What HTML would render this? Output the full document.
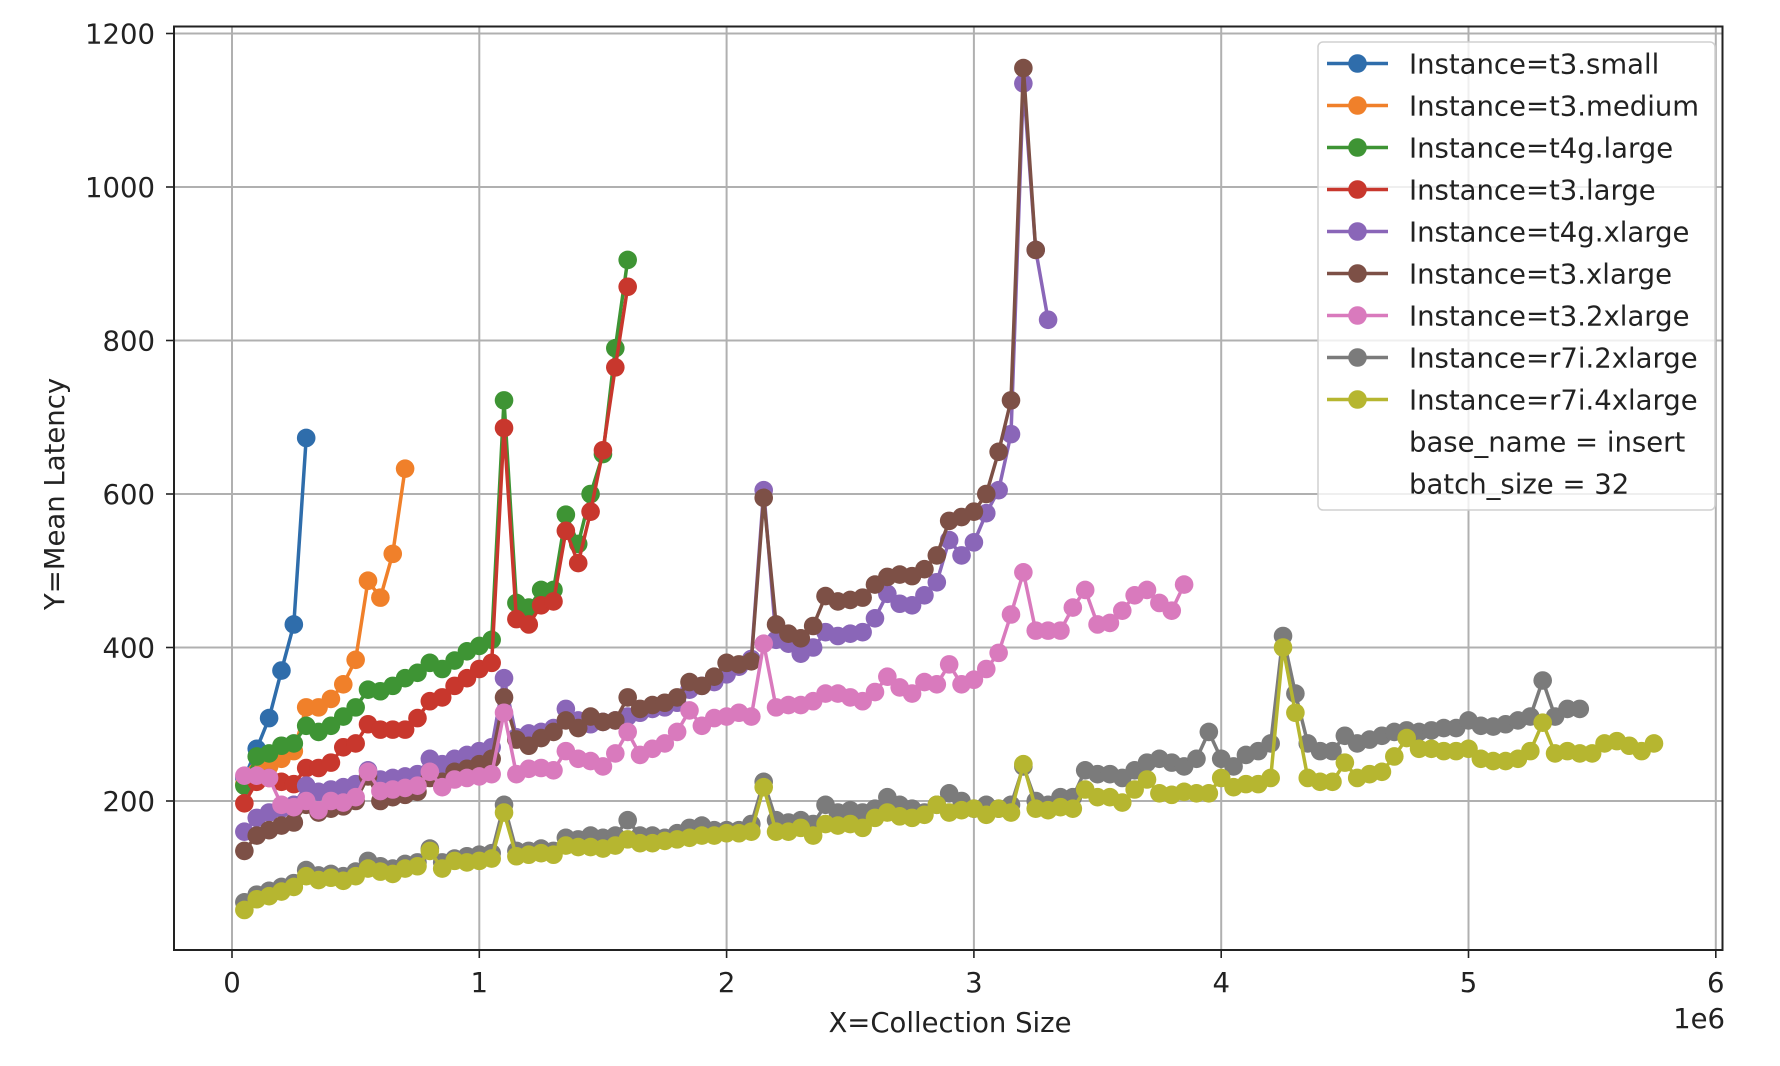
<!DOCTYPE html>
<html><head><meta charset="utf-8"><style>
html,body{margin:0;padding:0;background:#fff;}
svg{display:block;font-family:"DejaVu Sans","Liberation Sans",sans-serif;}
</style></head><body>
<svg id="chart" width="1780" height="1066" viewBox="0 0 1780 1066" xmlns="http://www.w3.org/2000/svg">
<rect width="1780" height="1066" fill="#fff"/>
<g id="grid"></g>
<g id="series"></g>
<rect x="174" y="26.5" width="1548.5" height="923.5" fill="none" stroke="#222" stroke-width="2"/>
<g id="ticks"></g>
<text x="950" y="1032" font-size="27.5" text-anchor="middle" fill="#222">X=Collection Size</text>
<text x="1725" y="1028" font-size="27.5" text-anchor="end" fill="#222">1e6</text>
<text transform="translate(64,494) rotate(-90)" font-size="27.5" text-anchor="middle" fill="#222">Y=Mean Latency</text>
<g id="legend"></g>
</svg>
<script>
const xTicks = [0,1,2,3,4,5,6];
const yTicks = [200,400,600,800,1000,1200];
const seriesNames = ["Instance=t3.small","Instance=t3.medium","Instance=t4g.large","Instance=t3.large","Instance=t4g.xlarge","Instance=t3.xlarge","Instance=t3.2xlarge","Instance=r7i.2xlarge","Instance=r7i.4xlarge"];
const seriesColors = ["#2f6dab","#f0802a","#3e9434","#c8372d","#8a66b8","#7d5046","#d97abd","#7b7b7b","#b6b630"];
const smallY = [230,268,308,370,430,673];
const mediumY = [222,238,245,255,265,322,322,333,352,384,487,465,522,633];
const t4gLargeY = [220,258,262,272,275,298,290,298,310,322,345,343,350,360,367,380,372,383,395,402,410,722,458,452,475,475,573,535,600,652,790,905];
const t3LargeY = [197,225,230,225,222,243,243,250,270,275,300,293,293,293,308,330,335,350,360,372,380,686,437,430,455,460,552,510,577,657,765,870];
const t4gXlargeY = [160,178,185,190,195,220,212,215,218,222,240,228,230,232,235,255,248,255,260,265,270,360,283,288,290,295,320,305,300,303,305,310,315,320,322,328,345,350,355,365,375,385,605,410,405,392,400,420,415,418,420,438,470,457,455,468,485,540,520,537,575,605,678,1135,918,827];
const t3XlargeY = [135,155,162,168,172,195,185,190,193,200,232,200,205,208,212,230,225,238,242,248,255,335,280,272,282,290,305,295,310,303,305,335,320,325,328,335,355,350,362,380,378,382,595,430,418,412,428,467,460,462,465,482,492,495,493,502,520,565,570,577,600,655,722,1155,918];
const t32xlargeY = [233,233,230,195,192,200,188,200,198,205,238,213,215,217,220,238,218,228,230,232,235,315,235,242,243,240,265,255,252,245,262,290,260,268,275,290,318,298,308,310,315,310,405,322,325,325,330,340,340,335,330,342,362,348,340,355,352,378,352,358,372,393,443,498,422,422,422,452,475,430,432,448,468,475,458,448,482];
const r7i2xY = [68,78,83,88,93,110,103,105,102,108,122,115,112,118,120,138,120,125,128,130,132,
 195,135,135,138,135,152,150,155,152,155,175,155,155,152,158,165,168,162,162,162,170,
 225,175,172,175,170,195,185,188,185,190,205,195,190,185,195,210,200,190,195,190,195,
 245,200,195,205,205,240,235,235,230,240,250,255,250,245,255,290,255,245,260,265,275,
 415,340,275,265,265,285,275,280,285,290,292,290,292,295,295,305,298,297,300,305,310,357,310,320,320];
const r7i4xY = [58,72,76,82,88,102,97,100,96,102,112,108,105,112,115,135,112,122,120,122,125,
 185,128,130,132,130,142,140,140,138,142,150,145,145,148,150,152,155,155,158,158,160,
 218,160,160,165,155,170,168,170,165,178,185,180,178,182,195,185,188,190,182,190,185,
 248,190,188,192,190,215,205,205,198,215,228,210,208,212,210,210,230,218,222,222,230,
 400,315,230,225,225,250,230,235,238,258,282,268,268,265,265,268,255,252,252,255,265,302,262,265,262,262,275,278,272,265,275];
const seriesData = [smallY,mediumY,t4gLargeY,t3LargeY,t4gXlargeY,t3XlargeY,t32xlargeY,r7i2xY,r7i4xY];
const xStart = 0.05, xStep = 0.05; // in millions
const seriesKeys = ["t3-small","t3-medium","t4g-large","t3-large","t4g-xlarge","t3-xlarge","t3-2xlarge","r7i-2xlarge","r7i-4xlarge"];

const NS="http://www.w3.org/2000/svg";
function xs(v){return 232+v*247.3;}
function ys(v){return 954.5-v*0.7675;}
function mk(tag,attrs,parent){const e=document.createElementNS(NS,tag);for(const k in attrs)e.setAttribute(k,attrs[k]);parent.appendChild(e);return e;}

const grid=document.getElementById('grid'), ticks=document.getElementById('ticks');
xTicks.forEach(t=>{
  const g=mk('line',{x1:xs(t),x2:xs(t),y1:26.5,y2:950,stroke:'#b0b0b0','stroke-width':2},grid);
  
  
  const tk=mk('line',{x1:xs(t),x2:xs(t),y1:950,y2:958,stroke:'#222','stroke-width':1.6},ticks);
  
  
  const lb=mk('text',{x:xs(t),y:992,'font-size':27.5,'text-anchor':'middle',fill:'#222'},ticks);
  lb.textContent=t;
  
  
});
yTicks.forEach(t=>{
  const g=mk('line',{x1:174,x2:1722.5,y1:ys(t),y2:ys(t),stroke:'#b0b0b0','stroke-width':2},grid);
  
  
  const tk=mk('line',{x1:166,x2:174,y1:ys(t),y2:ys(t),stroke:'#222','stroke-width':1.6},ticks);
  
  
  const lb=mk('text',{x:155,y:ys(t)+10,'font-size':27.5,'text-anchor':'end',fill:'#222'},ticks);
  lb.textContent=t;
  
  
});

const sg=document.getElementById('series');
seriesData.forEach((arr,si)=>{
  const g=mk('g',{},sg);
  
  
  const pts=arr.map((v,i)=>xs(xStart+i*xStep).toFixed(1)+','+ys(v).toFixed(1)).join(' ');
  const pl=mk('polyline',{points:pts,fill:'none',stroke:seriesColors[si],'stroke-width':3.5,'stroke-linejoin':'round'},g);
  
  
  arr.forEach((v,i)=>{
    const c=mk('circle',{cx:xs(xStart+i*xStep),cy:ys(v),r:9.3,fill:seriesColors[si]},g);
    
    
  });
});

const lg=document.getElementById('legend');
const box=mk('rect',{x:1318,y:42,width:397,height:468,rx:5,fill:'#fff','fill-opacity':0.8,stroke:'#d0d0d0','stroke-width':1.5},lg);


const extra=["base_name = insert","batch_size = 32"];
seriesNames.forEach((n,i)=>{
  const y=63.5+i*42;
  const g=mk('g',{},lg);
  
  
  mk('line',{x1:1327,x2:1388,y1:y,y2:y,stroke:seriesColors[i],'stroke-width':3.5},g);
  mk('circle',{cx:1357.5,cy:y,r:9.3,fill:seriesColors[i]},g);
  const t=mk('text',{x:1409,y:y+10,'font-size':27.5,fill:'#222'},g);
  t.textContent=n;
});
extra.forEach((n,j)=>{
  const y=63.5+(9+j)*42;
  const t=mk('text',{x:1409,y:y+10,'font-size':27.5,fill:'#222'},lg);
  t.textContent=n;
  
  
});
</script>
</body></html>
